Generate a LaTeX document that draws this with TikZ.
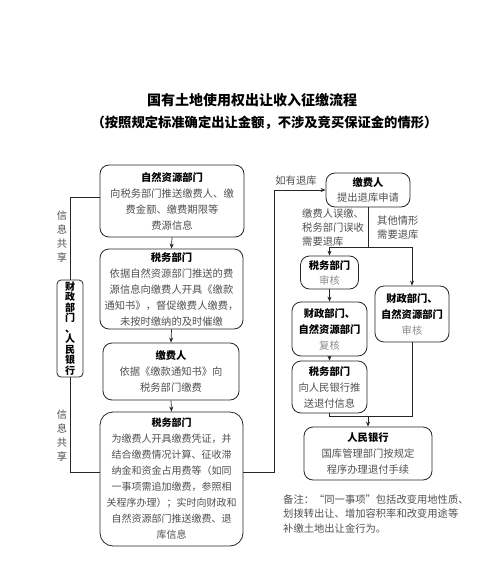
\documentclass[tikz,border=0pt]{standalone}
\usepackage{fontspec}
\setmainfont{Noto Sans CJK SC}
\usepackage{xcolor}
\definecolor{bodygray}{RGB}{80,80,80}
\definecolor{softgray}{RGB}{140,140,140}
\usetikzlibrary{arrows.meta}

\newcommand{\boxhead}[1]{{\bfseries\color{black}#1}}

\begin{document}
\begin{tikzpicture}[x=1pt, y=-1pt,
    fbox/.style={rectangle, rounded corners=9pt, draw=black!85, line width=0.8pt, text=bodygray, align=center, inner sep=1pt, font=\fontsize{10.3}{16}\selectfont},
    arr/.style={-{Stealth[length=5pt, width=4pt]}, line width=0.7pt, black!85},
    ln/.style={line width=0.7pt, black!85},
    lbl/.style={text=bodygray, align=left, inner sep=0pt, font=\fontsize{10.3}{14}\selectfont}
  ]
    \useasboundingbox (0,0) rectangle (492,575);

    \node[font=\fontsize{14}{16}\selectfont\bfseries] (title) at (252,100) {国有土地使用权出让收入征缴流程};
    \node[font=\fontsize{13.3}{16}\selectfont\bfseries] (subtitle) at (264.5,123) {（按照规定标准确定出让金额，不涉及竞买保证金的情形）};

    \node[fbox, minimum width=144pt, minimum height=72pt] (zy1) at (172,201) {\boxhead{自然资源部门}\\向税务部门推送缴费人、缴\\费金额、缴费期限等\\费源信息};
    \node[fbox, minimum width=143pt, minimum height=80pt] (sw1) at (171.5,289) {\boxhead{税务部门}\\依据自然资源部门推送的费\\源信息向缴费人开具《缴款\\通知书》，督促缴费人缴费，\\未按时缴纳的及时催缴};
    \node[fbox, minimum width=136pt, minimum height=57pt] (jf1) at (171,371.5) {\boxhead{缴费人}\\依据《缴款通知书》向\\税务部门缴费};
    \node[fbox, rounded corners=13pt, minimum width=143pt, minimum height=134pt, font=\fontsize{10}{16}\selectfont] (sw2) at (171.5,479) {\boxhead{税务部门}\\为缴费人开具缴费凭证，并\\结合缴费情况计算、征收滞\\纳金和资金占用费等（如同\\一事项需追加缴费，参照相\\关程序办理）；实时向财政和\\自然资源部门推送缴费、退\\库信息};
    \node[fbox, rounded corners=4pt, minimum width=26pt, minimum height=97pt, text=black, font=\fontsize{10}{10.5}\selectfont\bfseries] (czyh) at (70,328.5) {财\\政\\部\\门\\、\\人\\民\\银\\行};

    \node[lbl, align=center] (gx1) at (62,237) {信\\息\\共\\享};
    \node[lbl, align=center] (gx2) at (62,436) {信\\息\\共\\享};

    \node[fbox, minimum width=84pt, minimum height=34pt, font=\fontsize{10.3}{15}\selectfont] (jf2) at (368,190) {\boxhead{缴费人}\\提出退库申请};
    \node[fbox, minimum width=58pt, minimum height=33pt, font=\fontsize{10.3}{15}\selectfont] (sh1) at (329.5,272.5) {\boxhead{税务部门}\\\textcolor{softgray}{审核}};
    \node[fbox, minimum width=75pt, minimum height=54pt] (fh) at (329.5,329) {\boxhead{财政部门、}\\\boxhead{自然资源部门}\\\textcolor{softgray}{复核}};
    \node[fbox, minimum width=75pt, minimum height=52pt] (ts) at (329.5,387) {\boxhead{税务部门}\\向人民银行推\\送退付信息};
    \node[fbox, minimum width=74pt, minimum height=56pt] (sh2) at (412,314) {\boxhead{财政部门、}\\\boxhead{自然资源部门}\\\textcolor{softgray}{审核}};
    \node[fbox, minimum width=128pt, minimum height=53pt] (rh) at (368,453.5) {\boxhead{人民银行}\\国库管理部门按规定\\程序办理退付手续};

    \node[lbl] (ryk) at (296,181) {如有退库};
    \node[lbl, anchor=west] (wj) at (302,228) {缴费人误缴、\\税务部门误收\\需要退库};
    \node[lbl, anchor=west] (qt) at (377,228) {其他情形\\需要退库};
    \node[lbl, anchor=west, font=\fontsize{10.3}{14.5}\selectfont] (bz) at (283,514) {备注：“同一事项”包括改变用地性质、\\划拨转出让、增加容积率和改变用途等\\补缴土地出让金行为。};

    \draw[arr] (zy1.south) -- (sw1.north);
    \draw[arr] (sw1.south) -- (jf1.north);
    \draw[arr] (jf1.south) -- (sw2.north);
    \draw[ln] ([yshift=4pt]zy1.west) -| (czyh.north);
    \draw[ln] (czyh.south) |- ([yshift=7pt]sw2.west);

    \coordinate (tk) at (274,190);
    \draw[arr] ([yshift=7pt]sw2.east) -| (tk) -- (jf2.west);
    \coordinate (fz) at (368,247);
    \draw[ln] (jf2.south) -- (fz);
    \draw[arr] (fz) -| (sh1.north);
    \draw[arr] (fz) -| (sh2.north);
    \draw[arr] (sh1.south) -- (fh.north);
    \draw[arr] (fh.south) -- (ts.north);
    \coordinate (hz) at (368,416);
    \draw[ln] (ts.south) |- (hz);
    \draw[ln] (sh2.south) |- (hz);
    \draw[arr] (hz) -- (rh.north);
\end{tikzpicture}
\end{document}
